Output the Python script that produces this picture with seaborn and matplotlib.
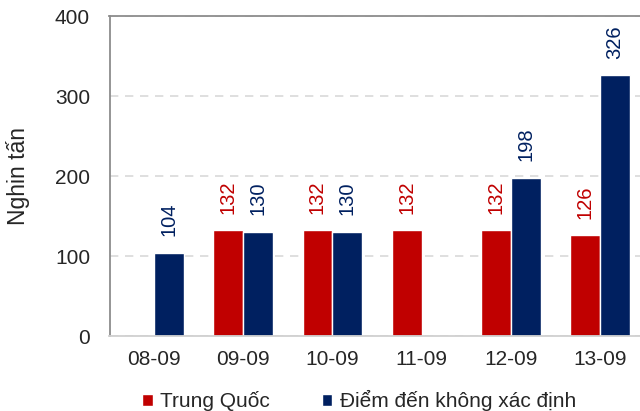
import numpy as np
import pandas as pd
import matplotlib
matplotlib.use("Agg")
import matplotlib.pyplot as plt
import seaborn as sns

sns.set_theme(style="white")
plt.rcParams['font.family'] = ['Liberation Sans', 'DejaVu Sans']

# data
months = ["08-09", "09-09", "10-09", "11-09", "12-09", "13-09"]
trung_quoc = [np.nan, 132, 132, 132, 132, 126]
khong_xac_dinh = [104, 130, 130, np.nan, 198, 326]
series_names = ["Trung Quốc", "Điểm đến không xác định"]
colors = ["#C00000", "#002060"]

df = pd.DataFrame({
    "month": months * 2,
    "value": trung_quoc + khong_xac_dinh,
    "series": [series_names[0]] * 6 + [series_names[1]] * 6,
})

fig = plt.figure(figsize=(6.4, 4.11), dpi=100)
ax = fig.add_axes([109.5 / 640, 1 - 336 / 411, 535 / 640, 320 / 411])

sns.barplot(data=df, x="month", y="value", hue="series", order=months,
            hue_order=series_names, palette=colors, width=0.67,
            saturation=1, ax=ax, legend=True)

for cont, col in zip(ax.containers, colors):
    ax.bar_label(cont, fmt="%d", rotation=90, padding=12, color=col, fontsize=14.5)

ax.set_ylim(0, 400)
ax.set_yticks([0, 100, 200, 300, 400])
ax.yaxis.grid(True, linestyle=(0, (5, 4)), color="#d9d9d9", linewidth=1.2)
ax.set_axisbelow(True)
ax.tick_params(axis="y", labelsize=15, length=0, pad=14)
ax.tick_params(axis="x", labelsize=15, length=0, pad=10)
ax.set_xlabel("")
ax.set_ylabel("Nghin tấn", fontsize=16.5, labelpad=18)

ax.spines["left"].set_color("#8c8c8c")
ax.spines["left"].set_linewidth(1.3)
ax.spines["top"].set_color("#8c8c8c")
ax.spines["top"].set_linewidth(1.3)
ax.spines["bottom"].set_color("#d0d0d0")
ax.spines["bottom"].set_linewidth(1.3)
ax.spines["right"].set_visible(False)

handles, labels = ax.get_legend_handles_labels()
ax.legend(handles, labels, loc="upper left", bbox_to_anchor=(134 / 640, 1 - 382 / 411),
          bbox_transform=fig.transFigure, ncol=2, frameon=False, fontsize=15,
          handlelength=0.5, handleheight=0.5, handletextpad=0.35, columnspacing=2.5,
          borderaxespad=0)

fig.savefig("out.png", dpi=100)
